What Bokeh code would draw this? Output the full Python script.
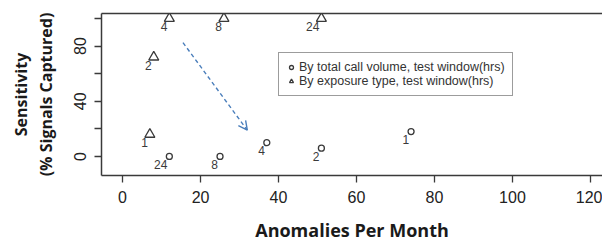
from bokeh.plotting import figure
from bokeh.models import (LinearAxis, FixedTicker, Range1d, Legend, LegendItem,
                          Arrow, OpenHead, ColumnDataSource)
from bokeh.core.properties import value
from bokeh.embed import file_html
from bokeh.resources import INLINE

# ---- data ----
vol_x = [12, 25, 37, 51, 74]
vol_y = [0, 0, 10, 6, 18]
vol_lab = ["24", "8", "4", "2", "1"]

exp_x = [51, 26, 12, 8, 7]
exp_y = [100, 100, 100, 72, 16]
exp_lab = ["24", "8", "4", "2", "1"]

arrow_start = [15.5, 82.5]
arrow_end = [32.0, 19.0]

x_ticks = [0, 20, 40, 60, 80, 100, 120]
y_ticks = [0, 20, 40, 60, 80, 100]
y_tick_labels = {0: "0", 20: "", 40: "40", 60: "", 80: "80", 100: ""}

legend_labels = ["By total call volume, test window(hrs)",
                 "By exposure type, test window(hrs)"]

INK = "#3a3a3a"

p = figure(width=602, height=246, output_backend="svg", toolbar_location=None,
           x_range=Range1d(-5.4, 123.1), y_range=Range1d(-13.8, 103.6),
           min_border_left=101, min_border_right=0, min_border_top=13, min_border_bottom=71,
           x_axis_location=None, y_axis_location=None)
p.grid.visible = False
p.outline_line_color = None
p.background_fill_color = "white"
p.border_fill_color = "white"

def style_axis(ax):
    ax.axis_line_color = INK
    ax.axis_line_width = 1.5
    ax.major_tick_line_color = INK
    ax.major_tick_line_width = 1.3
    ax.major_tick_out = 7
    ax.major_tick_in = 0
    ax.minor_tick_line_color = None
    ax.major_label_text_font = "Liberation Sans"
    ax.major_label_text_font_size = "16px"
    ax.major_label_text_color = "#222222"

def style_title(ax):
    ax.axis_label_text_font = "Open Sans"
    ax.axis_label_text_font_style = "bold"
    ax.axis_label_text_font_size = "16px"
    ax.axis_label_text_color = "#1a1a1a"

xa = LinearAxis(ticker=FixedTicker(ticks=x_ticks), axis_label="Anomalies Per Month")
style_axis(xa)
style_title(xa)
xa.axis_label_text_font_size = "18px"
xa.major_label_standoff = 8
xa.axis_label_standoff = 12
p.add_layout(xa, "below")

ya = LinearAxis(ticker=FixedTicker(ticks=y_ticks), major_label_overrides=y_tick_labels,
                axis_label="(% Signals Captured)")
style_axis(ya)
style_title(ya)
ya.major_label_orientation = "vertical"
ya.major_label_standoff = 8
ya.axis_label_standoff = 15
p.add_layout(ya, "left")

ya2 = LinearAxis(ticker=FixedTicker(ticks=[]), axis_label="Sensitivity")
style_title(ya2)
ya2.axis_line_color = None
ya2.major_tick_line_color = None
ya2.minor_tick_line_color = None
ya2.major_label_text_font_size = "0px"
ya2.major_tick_out = 0
ya2.major_label_standoff = 0
ya2.axis_label_standoff = 0
p.add_layout(ya2, "left")

ta = LinearAxis(ticker=FixedTicker(ticks=[]))
ta.axis_line_color = INK
ta.axis_line_width = 1.5
ta.major_tick_line_color = None
ta.minor_tick_line_color = None
ta.major_label_text_font_size = "0px"
ta.major_tick_out = 0
ta.major_tick_in = 0
ta.major_label_standoff = 0
p.add_layout(ta, "above")

src_v = ColumnDataSource(dict(x=vol_x, y=vol_y, t=vol_lab))
src_e = ColumnDataSource(dict(x=exp_x, y=exp_y, t=exp_lab))

rv = p.scatter("x", "y", source=src_v, marker="circle", size=6, fill_color=None,
               line_color=INK, line_width=1.3)
re_ = p.scatter("x", "y", source=src_e, marker="triangle", size=10, fill_color=None,
                line_color=INK, line_width=1.3)

for s in (src_v, src_e):
    p.text("x", "y", text="t", source=s, text_font=value("Liberation Sans"),
           text_font_size="12px", text_color=INK, text_align="right",
           text_baseline="middle", x_offset=-2, y_offset=8)

p.add_layout(Arrow(end=OpenHead(size=9, line_color="#4a7ebb", line_width=1.4),
                   x_start=arrow_start[0], y_start=arrow_start[1],
                   x_end=arrow_end[0], y_end=arrow_end[1],
                   line_color="#4a7ebb", line_width=1.4, line_dash="4 3"))

legend = Legend(items=[LegendItem(label=legend_labels[0], renderers=[rv]),
                       LegendItem(label=legend_labels[1], renderers=[re_])],
                location=(177, 79))
legend.label_text_font = "Liberation Sans"
legend.label_text_font_size = "12.5px"
legend.label_text_color = "#333333"
legend.label_height = 14
legend.glyph_height = 10
legend.glyph_width = 10
legend.label_standoff = 3
legend.padding = 7
legend.spacing = 0
legend.margin = 0
legend.border_line_color = INK
legend.border_line_width = 1.5
legend.background_fill_alpha = 1.0
p.add_layout(legend, "center")

open("out.html", "w").write(file_html(p, INLINE))
